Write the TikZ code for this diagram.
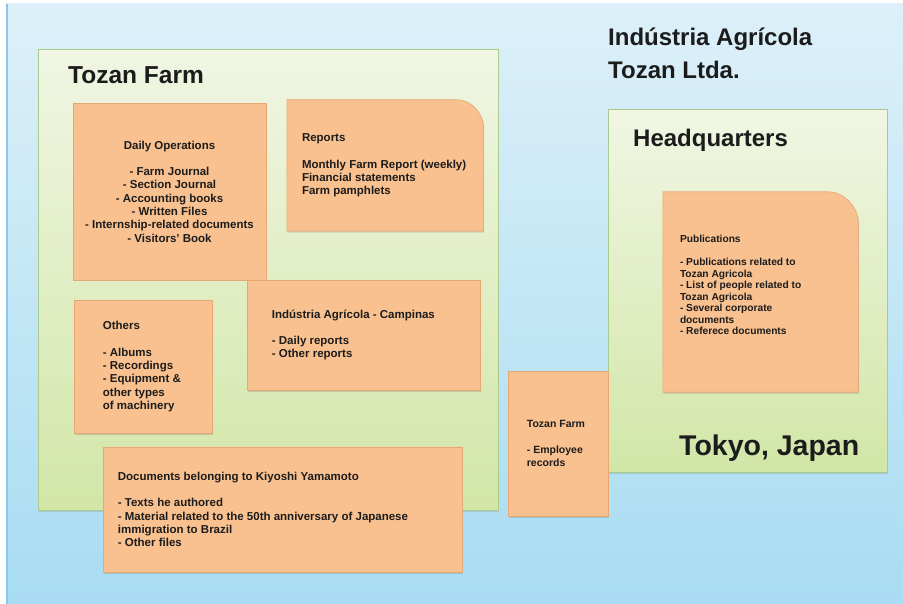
\documentclass[tikz,border=0pt]{standalone}
\usepackage{fontspec}
\setmainfont{Liberation Sans}
\usepackage{xcolor}
\usepackage{tikz}
\usetikzlibrary{positioning,shadows}

\definecolor{skytop}{HTML}{DDF0F9}
\definecolor{skybottom}{HTML}{A8DCF2}
\definecolor{skyedge}{HTML}{86C9E8}
\definecolor{areatop}{HTML}{F0F6E3}
\definecolor{areabottom}{HTML}{D2E6A7}
\definecolor{areaedge}{HTML}{A9CB8C}
\definecolor{cardfill}{HTML}{F9C18F}
\definecolor{cardedge}{HTML}{E8A673}
\definecolor{inkdark}{HTML}{1C1C1C}

\begin{document}
\begin{tikzpicture}[
  x=1pt, y=-1pt,
  every node/.style={text=inkdark, inner sep=0pt},
  area/.style={draw=areaedge, line width=1pt, top color=areatop, bottom color=areabottom,
    drop shadow={shadow xshift=1pt, shadow yshift=-1.5pt, opacity=.25}},
  card/.style={draw=cardedge, line width=.6pt, fill=cardfill,
    drop shadow={shadow xshift=1pt, shadow yshift=-1.5pt, opacity=.3}},
  ghost/.style={draw=none, fill=none},
  cardtext/.style={anchor=west, align=left, font=\bfseries\fontsize{11.5}{13.3}\selectfont},
  smalltext/.style={anchor=west, align=left, font=\bfseries\fontsize{10.2}{11.5}\selectfont},
  heading/.style={anchor=west, align=left, font=\bfseries\fontsize{24}{33}\selectfont}
]
\useasboundingbox (0,0) rectangle (903,604);

% backdrop
\fill[white] (0,0) rectangle (903,604);
\shade[top color=skytop, bottom color=skybottom] (6,4) rectangle (903,604);
\draw[skyedge, line width=1.5pt] (7,4) -- (7,604);

\node[heading] (company) at (608,53.5) {Indústria Agrícola\\Tozan Ltda.};

% Tozan Farm
\node[area, minimum width=460, minimum height=460] (farm) at (268,280) {};
\node[heading, font=\bfseries\fontsize{24.5}{33}\selectfont] (farmtitle) at (68,75) {Tozan Farm};

\node[card, minimum width=193, minimum height=177] (daily) at (169.5,191.5) {};
\node[cardtext, anchor=center, align=center] (dailytext) at (daily)
  {Daily Operations\\[13.3pt]
   - Farm Journal\\
   - Section Journal\\
   - Accounting books\\
   - Written Files\\
   - Internship-related documents\\
   - Visitors' Book};

\node[ghost, minimum width=196, minimum height=131] (reports) at (385,165.5) {};
\path[card] (reports.south west) -- (reports.north west) -- ([xshift=-26pt]reports.north east)
  .. controls ([xshift=-11.6pt]reports.north east) and ([yshift=-14.4pt]reports.north east)
  .. ([yshift=-26pt]reports.north east) -- (reports.south east) -- cycle;
\node[cardtext, right=15 of reports.west] (reportstext)
  {Reports\\[13.3pt]
   Monthly Farm Report (weekly)\\
   Financial statements\\
   Farm pamphlets};

\node[card, minimum width=138, minimum height=133] (others) at (143,366.5) {};
\node[cardtext, right=29 of others.west] (otherstext)
  {Others\\[13.3pt]
   - Albums\\
   - Recordings\\
   - Equipment \&\\
   other types\\
   of machinery};

\node[card, minimum width=233, minimum height=110] (campinas) at (363.5,335) {};
\node[cardtext, right=25 of campinas.west] (campinastext)
  {Indústria Agrícola - Campinas\\[13.3pt]
   - Daily reports\\
   - Other reports};

\node[card, minimum width=359, minimum height=125] (kiyoshi) at (282.5,509.5) {};
\node[cardtext, right=15 of kiyoshi.west] (kiyoshitext)
  {Documents belonging to Kiyoshi Yamamoto\\[13.3pt]
   - Texts he authored\\
   - Material related to the 50th anniversary of Japanese\\
   immigration to Brazil\\
   - Other files};

% Headquarters
\node[area, minimum width=279, minimum height=362] (hq) at (747.5,291) {};
\node[heading] (hqtitle) at (633,140) {Headquarters};

\node[ghost, minimum width=195, minimum height=200] (publications) at (760.5,292) {};
\path[card] (publications.south west) -- (publications.north west) -- ([xshift=-30pt]publications.north east)
  .. controls ([xshift=-13.4pt]publications.north east) and ([yshift=-16.6pt]publications.north east)
  .. ([yshift=-30pt]publications.north east) -- (publications.south east) -- cycle;
\node[smalltext, right=17 of publications.west, yshift=7pt] (publicationstext)
  {Publications\\[11.5pt]
   - Publications related to\\
   Tozan Agricola\\
   - List of people related to\\
   Tozan Agricola\\
   - Several corporate\\
   documents\\
   - Referece documents};

\node[heading, font=\bfseries\fontsize{28.5}{33}\selectfont] (city) at (679,448) {Tokyo, Japan};

\node[card, minimum width=100, minimum height=145] (staff) at (558,443.5) {};
\node[cardtext, font=\bfseries\fontsize{10.5}{13}\selectfont, right=19 of staff.west] (stafftext)
  {Tozan Farm\\[13pt]
   - Employee\\
   records};
\end{tikzpicture}
\end{document}
